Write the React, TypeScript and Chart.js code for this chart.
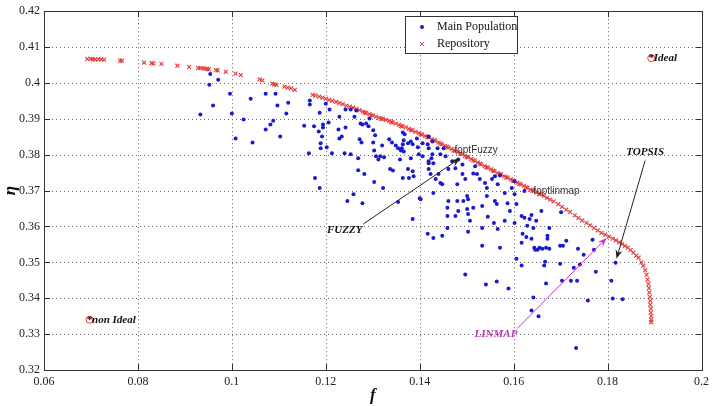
import React, { useEffect, useRef } from "react";
import { Chart, registerables } from "chart.js";

Chart.register(...registerables);

const xTicks = [0.06, 0.08, 0.1, 0.12, 0.14, 0.16, 0.18, 0.2];
const yTicks = [0.32, 0.33, 0.34, 0.35, 0.36, 0.37, 0.38, 0.39, 0.4, 0.41, 0.42];

const mainPopulation: number[][] = [
  [0.0954, 0.4025], [0.0971, 0.4009], [0.0952, 0.3995], [0.0996, 0.397], [0.096, 0.3937],
  [0.0933, 0.3912], [0.1, 0.3915], [0.104, 0.3956], [0.1072, 0.397], [0.1093, 0.397],
  [0.1097, 0.3937], [0.112, 0.3945], [0.1116, 0.3915], [0.1088, 0.3895], [0.1082, 0.3884],
  [0.1072, 0.387], [0.1025, 0.3898], [0.1008, 0.3845], [0.1044, 0.3834], [0.1103, 0.3851],
  [0.1154, 0.3881], [0.1175, 0.3879], [0.1164, 0.3804], [0.1177, 0.3735], [0.1187, 0.3707],
  [0.1166, 0.3951], [0.1166, 0.394], [0.12, 0.3942], [0.1187, 0.3917], [0.1208, 0.3926],
  [0.1194, 0.3884], [0.1194, 0.3876], [0.1206, 0.389], [0.1185, 0.3865], [0.1192, 0.3851],
  [0.1229, 0.3906], [0.1242, 0.3926], [0.1253, 0.3926], [0.1265, 0.3923], [0.1261, 0.3906],
  [0.1274, 0.3887], [0.1278, 0.3884], [0.1286, 0.3887], [0.1293, 0.3901], [0.1291, 0.3879],
  [0.1242, 0.3876], [0.1227, 0.387], [0.1229, 0.3845], [0.1234, 0.3851], [0.1189, 0.3832],
  [0.1189, 0.3818], [0.1202, 0.3821], [0.1213, 0.3804], [0.124, 0.3804], [0.1253, 0.3801],
  [0.1272, 0.3843], [0.1276, 0.3834], [0.1301, 0.3834], [0.1301, 0.3868], [0.1305, 0.3854],
  [0.132, 0.3826], [0.1303, 0.3812], [0.1316, 0.3796], [0.1312, 0.3787], [0.1324, 0.3793],
  [0.1335, 0.3843], [0.1341, 0.3834], [0.1349, 0.3826], [0.1354, 0.3818], [0.1358, 0.3787],
  [0.1337, 0.376], [0.1343, 0.3756], [0.1364, 0.3862], [0.1368, 0.3857], [0.1366, 0.384],
  [0.1364, 0.3829], [0.1362, 0.3818], [0.136, 0.3812], [0.1366, 0.3809], [0.1375, 0.3832],
  [0.1381, 0.3837], [0.1385, 0.3829], [0.1394, 0.3845], [0.1396, 0.3821], [0.1406, 0.3832],
  [0.1406, 0.3796], [0.1381, 0.379], [0.1375, 0.376], [0.1385, 0.3754], [0.1387, 0.374],
  [0.1364, 0.3735], [0.1377, 0.3735], [0.1269, 0.3757], [0.1282, 0.3746], [0.1303, 0.3724],
  [0.1322, 0.3707], [0.1259, 0.369], [0.1417, 0.3829], [0.1419, 0.3818], [0.1427, 0.3801],
  [0.1425, 0.379], [0.1419, 0.3782], [0.1269, 0.379], [0.1307, 0.3796], [0.1419, 0.3851],
  [0.1427, 0.3837], [0.1438, 0.3818], [0.1451, 0.3818], [0.1398, 0.3801], [0.1419, 0.3776],
  [0.1429, 0.3776], [0.1444, 0.3801], [0.1455, 0.3796], [0.1419, 0.376], [0.1423, 0.3746],
  [0.144, 0.3746], [0.1434, 0.3732], [0.1444, 0.3721], [0.1448, 0.3718], [0.1469, 0.3782],
  [0.1482, 0.3787], [0.1491, 0.3773], [0.1461, 0.376], [0.1476, 0.3762], [0.1491, 0.3746],
  [0.148, 0.3718], [0.1497, 0.3732], [0.1518, 0.3768], [0.1514, 0.3748], [0.1522, 0.3746],
  [0.1528, 0.3732], [0.1539, 0.3721], [0.1543, 0.3707], [0.1554, 0.3732], [0.156, 0.374],
  [0.1571, 0.3742], [0.1429, 0.3693], [0.1402, 0.3676], [0.1461, 0.3671], [0.148, 0.3671],
  [0.1493, 0.3671], [0.1503, 0.3676], [0.1501, 0.3685], [0.1482, 0.3643], [0.1459, 0.3652],
  [0.1459, 0.3629], [0.1476, 0.3629], [0.1501, 0.3649], [0.1514, 0.3652], [0.1533, 0.3657],
  [0.1543, 0.3685], [0.156, 0.3671], [0.1564, 0.3663], [0.1581, 0.3693], [0.1596, 0.3707],
  [0.1602, 0.369], [0.1587, 0.3665], [0.1606, 0.3663], [0.1507, 0.3616], [0.1533, 0.3596],
  [0.1566, 0.3593], [0.1581, 0.3616], [0.1459, 0.3596], [0.1417, 0.358], [0.1429, 0.3568],
  [0.1448, 0.3574], [0.1533, 0.3546], [0.1571, 0.3541], [0.1617, 0.3629], [0.1634, 0.3621],
  [0.1638, 0.3632], [0.1648, 0.3616], [0.1629, 0.3602], [0.1619, 0.358], [0.1638, 0.3566],
  [0.1644, 0.3541], [0.1655, 0.3541], [0.1661, 0.3538], [0.1669, 0.3541], [0.1676, 0.3538],
  [0.1659, 0.3643], [0.1623, 0.3699], [0.1602, 0.3726], [0.1566, 0.3718], [0.1672, 0.3574],
  [0.1676, 0.3596], [0.1617, 0.3555], [0.1246, 0.3671], [0.1278, 0.3665], [0.1354, 0.3668],
  [0.1385, 0.3621], [0.14, 0.3679], [0.1503, 0.3635], [0.1545, 0.3627], [0.1558, 0.361],
  [0.1592, 0.3643], [0.1602, 0.361], [0.1623, 0.3624], [0.1642, 0.3596], [0.1627, 0.3571],
  [0.1497, 0.3466], [0.1541, 0.3438], [0.1564, 0.3447], [0.1589, 0.3427], [0.1606, 0.351],
  [0.1617, 0.3491], [0.1651, 0.3535], [0.1646, 0.3535], [0.1672, 0.3566], [0.1665, 0.3491],
  [0.1667, 0.3502], [0.1699, 0.3496], [0.1699, 0.3546], [0.1705, 0.3546], [0.1712, 0.356],
  [0.1737, 0.3538], [0.1771, 0.3535], [0.1749, 0.3521], [0.1728, 0.3485], [0.1741, 0.3494],
  [0.1775, 0.3474], [0.1642, 0.3402], [0.1638, 0.3366], [0.1653, 0.335], [0.1669, 0.3441],
  [0.1703, 0.3449], [0.1722, 0.3449], [0.1735, 0.3449], [0.1758, 0.3394], [0.1808, 0.3449],
  [0.1811, 0.3399], [0.1832, 0.3397], [0.1817, 0.3499], [0.1733, 0.3261], [0.1701, 0.364],
  [0.1768, 0.3563], [0.1503, 0.3585],
];

const repository: number[][] = [
  [0.0692, 0.4067], [0.0699, 0.4067], [0.0704, 0.4066], [0.0709, 0.4066], [0.0716, 0.4066],
  [0.0722, 0.4066], [0.0728, 0.4065], [0.0762, 0.4062], [0.0766, 0.4062], [0.0813, 0.4057],
  [0.0829, 0.4055], [0.0833, 0.4054], [0.085, 0.4053], [0.0884, 0.4048], [0.0909, 0.4045],
  [0.0928, 0.4042], [0.0933, 0.4041], [0.0938, 0.4041], [0.0942, 0.404], [0.0947, 0.4039],
  [0.0951, 0.4038], [0.0966, 0.4036], [0.097, 0.4035], [0.0987, 0.4031], [0.1008, 0.4026],
  [0.1019, 0.4022], [0.1059, 0.401], [0.1065, 0.4007], [0.1086, 0.3998], [0.109, 0.3996],
  [0.1095, 0.3994], [0.1112, 0.399], [0.1119, 0.3987], [0.1126, 0.3985], [0.1134, 0.3981],
  [0.1172, 0.3967], [0.1178, 0.3965], [0.1186, 0.3962], [0.1193, 0.3959], [0.12, 0.3956],
  [0.1207, 0.3953], [0.1214, 0.395], [0.1222, 0.3947], [0.1229, 0.3944], [0.1236, 0.3941],
  [0.1244, 0.3937], [0.1251, 0.3934], [0.1258, 0.3931], [0.1265, 0.3928], [0.1272, 0.3924],
  [0.1279, 0.392], [0.1286, 0.3916], [0.1293, 0.3913], [0.13, 0.3909], [0.1307, 0.3906],
  [0.1314, 0.3903], [0.1321, 0.39], [0.1328, 0.3897], [0.1335, 0.3894], [0.1342, 0.389],
  [0.1349, 0.3887], [0.1356, 0.3883], [0.1363, 0.3879], [0.137, 0.3876], [0.1377, 0.3872],
  [0.1384, 0.3868], [0.1391, 0.3864], [0.1398, 0.386], [0.1405, 0.3856], [0.1412, 0.3852],
  [0.1419, 0.3848], [0.1426, 0.3843], [0.1433, 0.3839], [0.144, 0.3834], [0.1447, 0.3829],
  [0.1454, 0.3825], [0.1461, 0.382], [0.1468, 0.3816], [0.1475, 0.3811], [0.1482, 0.3807],
  [0.1489, 0.3802], [0.1496, 0.3797], [0.1503, 0.3793], [0.151, 0.3788], [0.1517, 0.3783],
  [0.1524, 0.3778], [0.1531, 0.3773], [0.1538, 0.3768], [0.1545, 0.3764], [0.1552, 0.3759],
  [0.1559, 0.3754], [0.1566, 0.3749], [0.1573, 0.3745], [0.158, 0.374], [0.1587, 0.3736],
  [0.1594, 0.3731], [0.1601, 0.3727], [0.1608, 0.3722], [0.1615, 0.3717], [0.1622, 0.3713],
  [0.1629, 0.3708], [0.1636, 0.3703], [0.1643, 0.3699], [0.165, 0.3695], [0.1657, 0.369],
  [0.1664, 0.3685], [0.1671, 0.368], [0.1678, 0.3675], [0.1685, 0.367], [0.1695, 0.3662],
  [0.1703, 0.3655], [0.1712, 0.3647], [0.172, 0.364], [0.173, 0.3631], [0.1738, 0.3624],
  [0.1746, 0.3617], [0.1755, 0.361], [0.1763, 0.3603], [0.1771, 0.3596], [0.1779, 0.3589],
  [0.1787, 0.3582], [0.1795, 0.3577], [0.1803, 0.3572], [0.1811, 0.3566], [0.1818, 0.3561],
  [0.1825, 0.3556], [0.1831, 0.3551], [0.1837, 0.3546], [0.1843, 0.3541], [0.1849, 0.3534],
  [0.1855, 0.3527], [0.1861, 0.3519], [0.1866, 0.3513], [0.1872, 0.35], [0.1876, 0.349],
  [0.188, 0.3478], [0.1883, 0.3466], [0.1885, 0.3452], [0.1887, 0.344], [0.1888, 0.3428],
  [0.1889, 0.3416], [0.189, 0.3404], [0.1891, 0.3393], [0.1891, 0.3382], [0.1892, 0.3371],
  [0.1892, 0.336], [0.1893, 0.335], [0.1893, 0.334], [0.1893, 0.3333],
  [0.1283, 0.3917], [0.1297, 0.3910], [0.1318, 0.3900], [0.1339, 0.3891], [0.1360, 0.3880],
  [0.1381, 0.3869], [0.1402, 0.3857], [0.1416, 0.3849], [0.1430, 0.3840], [0.1444, 0.3831],
  [0.1458, 0.3822], [0.1472, 0.3812], [0.1486, 0.3803], [0.1500, 0.3794], [0.1514, 0.3785],
  [0.1528, 0.3775], [0.1542, 0.3765], [0.1556, 0.3756], [0.1570, 0.3746], [0.1584, 0.3737],
  [0.1598, 0.3728], [0.1612, 0.3719], [0.1626, 0.3709], [0.1640, 0.3700], [0.1654, 0.3691],
];

const idealPoint = [0.1893, 0.4069];
const nonIdealPoint = [0.0697, 0.334];

const fuzzyArrow = [[0.128, 0.3607], [0.1486, 0.379]];
const topsisArrow = [[0.188, 0.3784], [0.1819, 0.351]];
const linmapArrow = [[0.1608, 0.3316], [0.1798, 0.3568]];

const fuzzyLabel = [0.1278, 0.3591];
const topsisLabel = [0.188, 0.3807];
const linmapLabel = [0.1608, 0.33];
const foptFuzzyLabel = [0.1474, 0.3812];
const foptLinmapLabel = [0.1642, 0.3699];

const fmt = (v: number) => String(+Number(v).toFixed(2));

const frame = {
  id: "frame",
  beforeDatasetsDraw(chart: any) {
    const { ctx, chartArea, scales } = chart;
    const { left, right, top, bottom } = chartArea;
    const x = scales.x;
    const y = scales.y;
    ctx.save();
    ctx.lineWidth = 1;
    ctx.strokeStyle = "#666";
    ctx.setLineDash([1, 3]);
    xTicks.forEach((t) => {
      const px = Math.round(x.getPixelForValue(t)) + 0.5;
      if (px < left + 2 || px > right - 2) return;
      ctx.beginPath();
      ctx.moveTo(px, top);
      ctx.lineTo(px, bottom);
      ctx.stroke();
    });
    yTicks.forEach((t) => {
      const py = Math.round(y.getPixelForValue(t)) + 0.5;
      if (py < top + 2 || py > bottom - 2) return;
      ctx.beginPath();
      ctx.moveTo(left, py);
      ctx.lineTo(right, py);
      ctx.stroke();
    });
    ctx.restore();
  },
  afterDatasetsDraw(chart: any) {
    const { ctx, chartArea, scales } = chart;
    const { left, right, top, bottom } = chartArea;
    const x = scales.x;
    const y = scales.y;
    ctx.save();
    ctx.strokeStyle = "#333";
    ctx.lineWidth = 1;
    ctx.setLineDash([]);
    xTicks.forEach((t) => {
      const px = Math.round(x.getPixelForValue(t)) + 0.5;
      ctx.beginPath();
      ctx.moveTo(px, bottom);
      ctx.lineTo(px, bottom - 6);
      ctx.moveTo(px, top);
      ctx.lineTo(px, top + 6);
      ctx.stroke();
    });
    yTicks.forEach((t) => {
      const py = Math.round(y.getPixelForValue(t)) + 0.5;
      ctx.beginPath();
      ctx.moveTo(left, py);
      ctx.lineTo(left + 6, py);
      ctx.moveTo(right, py);
      ctx.lineTo(right - 6, py);
      ctx.stroke();
    });
    ctx.strokeRect(Math.round(left) + 0.5, Math.round(top) + 0.5, Math.round(right - left), Math.round(bottom - top));

    const P = (p: number[]) => [x.getPixelForValue(p[0]), y.getPixelForValue(p[1])];
    const arrow = (a: number[][], color: string) => {
      const [x1, y1] = P(a[0]);
      const [x2, y2] = P(a[1]);
      const ang = Math.atan2(y2 - y1, x2 - x1);
      const L = 9;
      const W = 3.5;
      ctx.strokeStyle = color;
      ctx.fillStyle = color;
      ctx.lineWidth = 1;
      ctx.beginPath();
      ctx.moveTo(x1, y1);
      ctx.lineTo(x2 - 5 * Math.cos(ang), y2 - 5 * Math.sin(ang));
      ctx.stroke();
      const bx = x2 - L * Math.cos(ang);
      const by = y2 - L * Math.sin(ang);
      ctx.beginPath();
      ctx.moveTo(x2, y2);
      ctx.lineTo(bx + W * Math.sin(ang), by - W * Math.cos(ang));
      ctx.lineTo(x2 - 6 * Math.cos(ang), y2 - 6 * Math.sin(ang));
      ctx.lineTo(bx - W * Math.sin(ang), by + W * Math.cos(ang));
      ctx.closePath();
      ctx.fill();
    };
    arrow(fuzzyArrow, "#222");
    arrow(topsisArrow, "#222");
    arrow(linmapArrow, "#cc33cc");

    ctx.textBaseline = "middle";
    ctx.font = "bold italic 11px 'Liberation Serif'";
    ctx.fillStyle = "#111";
    let [tx, ty] = P(fuzzyLabel);
    ctx.textAlign = "right";
    ctx.fillText("FUZZY", tx, ty);
    [tx, ty] = P(topsisLabel);
    ctx.textAlign = "center";
    ctx.fillText("TOPSIS", tx, ty);
    [tx, ty] = P(linmapLabel);
    ctx.textAlign = "right";
    ctx.fillStyle = "#c030c0";
    ctx.fillText("LINMAP", tx, ty);

    ctx.fillStyle = "#111";
    ctx.textAlign = "left";
    [tx, ty] = P(idealPoint);
    ctx.fillText("*Ideal", tx - 3, ty);
    [tx, ty] = P(nonIdealPoint);
    ctx.fillText("*non Ideal", tx - 3, ty);

    ctx.font = "10px 'Liberation Sans'";
    ctx.fillStyle = "#333";
    [tx, ty] = P(foptFuzzyLabel);
    ctx.fillText("foptFuzzy", tx, ty);
    [tx, ty] = P(foptLinmapLabel);
    ctx.fillText("foptlinmap", tx, ty);

    // legend
    const lx = 405;
    const ly = 16;
    ctx.fillStyle = "#fff";
    ctx.fillRect(lx, ly, 112, 37);
    ctx.strokeStyle = "#333";
    ctx.strokeRect(lx + 0.5, ly + 0.5, 112, 37);
    ctx.fillStyle = "#1a1acc";
    ctx.beginPath();
    ctx.arc(lx + 17, ly + 11, 2, 0, Math.PI * 2);
    ctx.fill();
    ctx.strokeStyle = "#e04848";
    ctx.beginPath();
    ctx.moveTo(lx + 15, ly + 26);
    ctx.lineTo(lx + 19, ly + 30);
    ctx.moveTo(lx + 19, ly + 26);
    ctx.lineTo(lx + 15, ly + 30);
    ctx.stroke();
    ctx.fillStyle = "#111";
    ctx.font = "12px 'Liberation Serif'";
    ctx.textAlign = "left";
    ctx.fillText("Main Population", lx + 32, ly + 11);
    ctx.fillText("Repository", lx + 32, ly + 28);
    ctx.restore();
  },
};

export default function App() {
  const ref = useRef<HTMLCanvasElement | null>(null);
  useEffect(() => {
    if (!ref.current) return;
    const chart = new Chart(ref.current, {
      type: "scatter",
      data: {
        datasets: [
          {
            label: "Main Population",
            data: mainPopulation.map((p) => ({ x: p[0], y: p[1] })),
            pointStyle: "circle",
            pointRadius: 2,
            backgroundColor: "#1a1ad0",
            borderColor: "#1a1ad0",
            borderWidth: 0,
          },
          {
            label: "Repository",
            data: repository.map((p) => ({ x: p[0], y: p[1] })),
            pointStyle: "crossRot",
            pointRadius: 2.8,
            borderColor: "#e23c3c",
            backgroundColor: "#e23c3c",
            borderWidth: 1.1,
          },
          {
            label: "Ideal points",
            data: [idealPoint, nonIdealPoint].map((p) => ({ x: p[0], y: p[1] })),
            pointStyle: "circle",
            pointRadius: 3.5,
            borderColor: "#ff3030",
            backgroundColor: "rgba(0,0,0,0)",
            borderWidth: 1,
          },
        ],
      },
      options: {
        animation: false,
        responsive: true,
        maintainAspectRatio: false,
        layout: { padding: { left: 0, right: 6, top: 9, bottom: 0 } },
        plugins: { legend: { display: false }, tooltip: { enabled: false } },
        scales: {
          x: {
            type: "linear",
            min: 0.06,
            max: 0.2,
            afterBuildTicks: (s: any) => {
              s.ticks = xTicks.map((v) => ({ value: v }));
            },
            afterFit: (s: any) => {
              s.height = 36;
            },
            grid: { display: false, drawTicks: false },
            border: { display: false },
            ticks: {
              callback: (v: any) => fmt(v),
              color: "#222",
              padding: 5,
              maxRotation: 0,
              autoSkip: false,
              font: { family: "'Liberation Serif'", size: 12 },
            },
            title: {
              display: true,
              text: "f",
              color: "#111",
              padding: 0,
              font: { family: "'Liberation Serif'", size: 17, style: "italic", weight: "bold" },
            },
          },
          y: {
            type: "linear",
            min: 0.32,
            max: 0.42,
            afterBuildTicks: (s: any) => {
              s.ticks = yTicks.map((v) => ({ value: v }));
            },
            afterFit: (s: any) => {
              s.width = 44;
            },
            grid: { display: false, drawTicks: false },
            border: { display: false },
            ticks: {
              callback: (v: any) => fmt(v),
              color: "#222",
              padding: 4,
              autoSkip: false,
              font: { family: "'Liberation Serif'", size: 12 },
            },
            title: {
              display: true,
              text: "η",
              color: "#111",
              padding: 0,
              font: { family: "'Liberation Serif'", size: 17, style: "italic", weight: "bold" },
            },
          },
        },
      },
      plugins: [frame],
    } as any);
    return () => chart.destroy();
  }, []);
  return (
    <div style={{ position: "fixed", left: 0, top: 0, width: 714, height: 406, background: "#fff" }}>
      <canvas ref={ref} />
    </div>
  );
}
